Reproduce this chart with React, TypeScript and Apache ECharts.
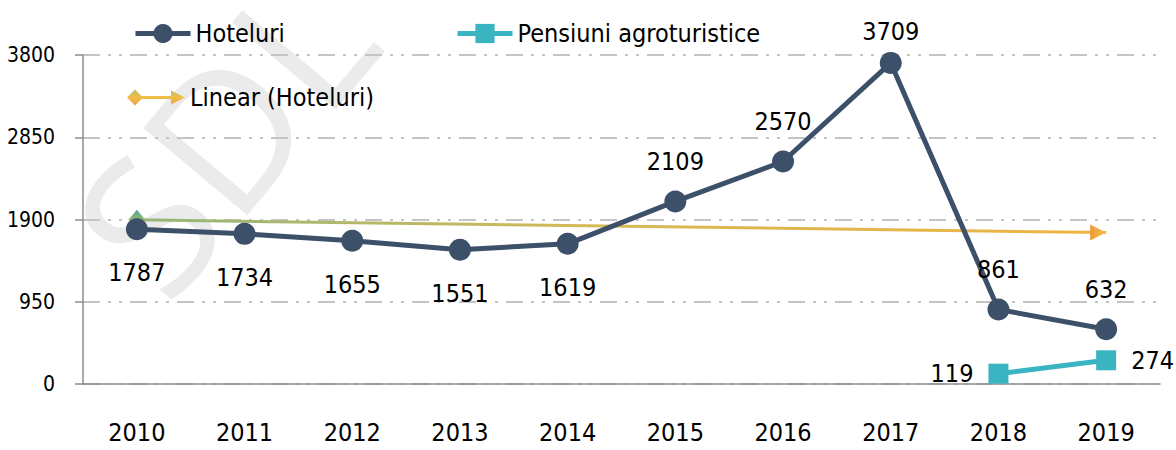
import React, { useEffect, useRef } from "react";
import * as echarts from "echarts";

const years = ["2010", "2011", "2012", "2013", "2014", "2015", "2016", "2017", "2018", "2019"];
const hoteluri = [1787, 1734, 1655, 1551, 1619, 2109, 2570, 3709, 861, 632];
const pensiuni: (number | null)[] = [null, null, null, null, null, null, null, null, 119, 274];
const trendStart = 1896;
const trendEnd = 1749;
const yTicks = [0, 950, 1900, 2850, 3800];

const FONT = "'DejaVu Sans Condensed', 'DejaVu Sans', sans-serif";
const DARK = "#3c5069";
const TEAL = "#3bb4c1";

export default function App() {
  const ref = useRef<HTMLDivElement>(null);
  useEffect(() => {
    if (!ref.current) return;
    const chart = echarts.init(ref.current, null, { renderer: "svg" });
    const trendGrad = new echarts.graphic.LinearGradient(0, 0, 1, 0, [
      { offset: 0, color: "#93b77a" },
      { offset: 0.45, color: "#d2b957" },
      { offset: 1, color: "#f0b443" },
    ]);
    const diamondGrad = new echarts.graphic.LinearGradient(0, 0, 0, 1, [
      { offset: 0, color: "#4aa99a" },
      { offset: 1, color: "#e6c24a" },
    ]);
    const arrowGrad = new echarts.graphic.LinearGradient(0, 0, 0, 1, [
      { offset: 0, color: "#f2c24a" },
      { offset: 1, color: "#ee9a3c" },
    ]);
    const legendGrad = new echarts.graphic.LinearGradient(0, 0, 0, 1, [
      { offset: 0, color: "#b9c06a" },
      { offset: 0.5, color: "#f0bd45" },
      { offset: 1, color: "#f0a24a" },
    ]);
    const legendText = { fontFamily: FONT, fontSize: 25, color: "#000" };
    chart.setOption({
      animation: false,
      backgroundColor: "#fff",
      graphic: [
        {
          type: "text",
          x: 112,
          y: 262,
          rotation: (50 * Math.PI) / 180,
          z: -10,
          silent: true,
          style: {
            text: "SDL - VERIFICAT",
            fontSize: 190,
            fontFamily: "'Open Sans', sans-serif",
            fill: "#ebebeb",
            align: "left",
            verticalAlign: "middle",
          },
        },
      ],
      grid: { left: 83, right: 16, top: 55, bottom: 66 },
      legend: [
        {
          data: ["Hoteluri"],
          left: 128,
          top: 16,
          itemWidth: 55,
          itemHeight: 24,
          lineStyle: { width: 5 },
          textStyle: legendText,
        },
        {
          data: ["Pensiuni agroturistice"],
          left: 450,
          top: 16,
          itemWidth: 55,
          itemHeight: 24,
          lineStyle: { width: 5 },
          textStyle: legendText,
        },
        {
          data: [
            {
              name: "Linear (Hoteluri)",
              icon: "path://M0,8 L8,0 L16,8 L8,16 Z M14,6.5 L46,6.5 L46,9.5 L14,9.5 Z M44,1 L58,8 L44,15 Z",
              itemStyle: { color: legendGrad },
            },
          ],
          left: 122,
          top: 80,
          itemWidth: 58,
          itemHeight: 16,
          textStyle: legendText,
        },
      ],
      xAxis: {
        type: "category",
        data: years,
        boundaryGap: true,
        axisLine: { lineStyle: { color: "#8c8c8c", width: 1.5 } },
        axisTick: { show: false },
        axisLabel: { fontFamily: FONT, fontSize: 25, color: "#000", margin: 36 },
      },
      yAxis: {
        type: "value",
        min: yTicks[0],
        max: yTicks[yTicks.length - 1],
        interval: yTicks[1] - yTicks[0],
        axisLine: { show: true, lineStyle: { color: "#8c8c8c", width: 1.5 } },
        axisTick: { show: true, length: 8, lineStyle: { color: "#8c8c8c", width: 1.5 } },
        axisLabel: {
          fontFamily: FONT,
          fontSize: 21,
          color: "#000",
          margin: 28,
          formatter: (v: number) => String(v),
        },
        splitLine: {
          lineStyle: { color: "#c4c4c4", width: 2, type: [17, 8, 3, 8, 3, 8] },
        },
      },
      series: [
        {
          name: "Hoteluri",
          type: "line",
          data: hoteluri.map((v, i) => ({
            value: v,
            label:
              i < 5
                ? { position: "bottom", distance: 20 }
                : { position: "top", distance: v === Math.max(...hoteluri) ? 8 : 16 },
          })),
          symbol: "circle",
          symbolSize: 22,
          z: 4,
          lineStyle: { color: DARK, width: 5 },
          itemStyle: { color: DARK },
          label: {
            show: true,
            fontFamily: FONT,
            fontSize: 25,
            color: "#000",
          },
        },
        {
          name: "Pensiuni agroturistice",
          type: "line",
          data: pensiuni.map((v, i) => ({
            value: v,
            label: { position: i === pensiuni.length - 1 ? "right" : "left" },
          })),
          symbol: "rect",
          symbolSize: 20,
          z: 4,
          lineStyle: { color: TEAL, width: 5 },
          itemStyle: { color: TEAL },
          label: {
            show: true,
            fontFamily: FONT,
            fontSize: 25,
            color: "#000",
            distance: 15,
          },
        },
        {
          name: "Linear (Hoteluri)",
          type: "line",
          z: 3,
          data: [
            {
              value: [years[0], trendStart],
              symbol: "diamond",
              symbolSize: [17, 20],
              itemStyle: { color: diamondGrad },
            },
            {
              value: [years[years.length - 1], trendEnd],
              symbol: "triangle",
              symbolSize: [16, 16],
              symbolRotate: -90,
              symbolOffset: [-8, 0],
              itemStyle: { color: arrowGrad },
            },
          ],
          lineStyle: { color: trendGrad, width: 3 },
          itemStyle: { color: "#e8b84a" },
        },
      ],
    });
    return () => chart.dispose();
  }, []);
  return (
    <div
      ref={ref}
      style={{ position: "fixed", left: 0, top: 0, width: 1176, height: 450 }}
    />
  );
}
